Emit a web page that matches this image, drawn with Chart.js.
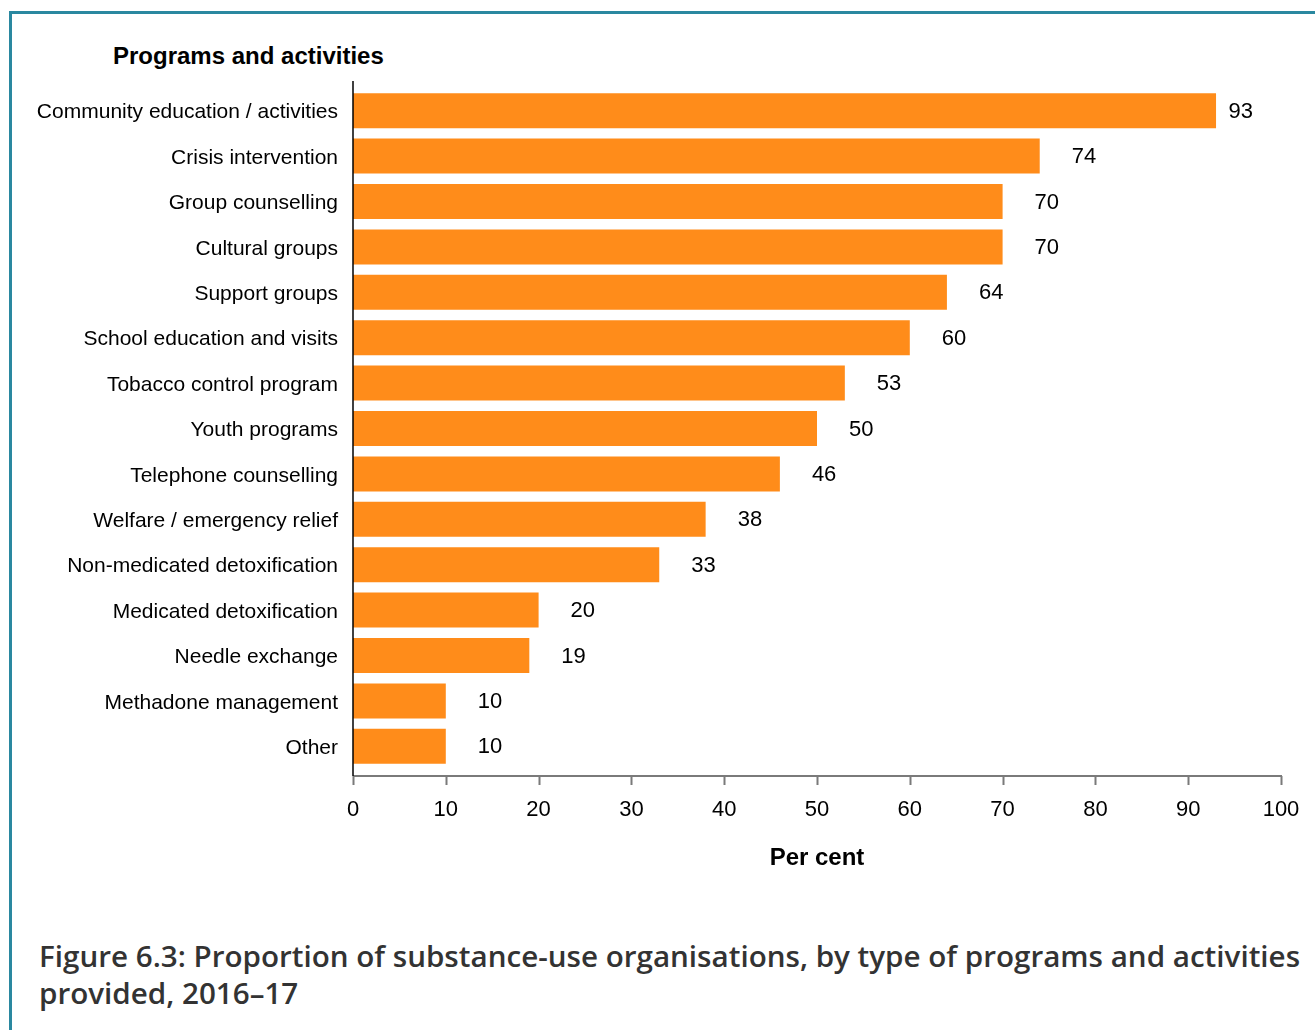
<!DOCTYPE html>
<html>
<head>
<meta charset="utf-8">
<script src="https://cdn.jsdelivr.net/npm/chart.js@4.4.1/dist/chart.umd.min.js"></script>
<style>
  html, body { margin: 0; padding: 0; background: #ffffff; }
  body { width: 1315px; height: 1030px; position: relative; overflow: hidden; font-family: "Liberation Sans", Arial, sans-serif; }
  #frame { position: absolute; left: 9px; top: 11px; width: 1400px; height: 1100px;
           border-top: 3px solid #2a88a0; border-left: 3px solid #2a88a0; }
  #heading { position: absolute; left: 113px; top: 42px; font: bold 24px "Liberation Sans", Arial, sans-serif; color: #000; }
  #wrap { position: absolute; left: 0; top: 0; width: 1315px; height: 900px; }
  #caption { position: absolute; left: 39px; top: 937px; width: 1275px;
             font: 600 29.6px "Open Sans", sans-serif; line-height: 37px; color: #333333; }
</style>
</head>
<body>
<div id="frame"></div>
<div id="heading">Programs and activities</div>
<div id="wrap"><canvas id="chart" width="1315" height="900"></canvas></div>
<div id="caption">Figure 6.3: Proportion of substance-use organisations, by type of programs and activities provided, 2016–17</div>
<script>
// Programs and activities offered, share of organisations (per cent)
const categories = [
  "Community education / activities",
  "Crisis intervention",
  "Group counselling",
  "Cultural groups",
  "Support groups",
  "School education and visits",
  "Tobacco control program",
  "Youth programs",
  "Telephone counselling",
  "Welfare / emergency relief",
  "Non-medicated detoxification",
  "Medicated detoxification",
  "Needle exchange",
  "Methadone management",
  "Other"
];
const perCent = [93, 74, 70, 70, 64, 60, 53, 50, 46, 38, 33, 20, 19, 10, 10];
const xTicks = [0, 10, 20, 30, 40, 50, 60, 70, 80, 90, 100];

const FONT = "'Liberation Sans', Arial, sans-serif";
const AXIS_EXT = 7;   // axis lines run a little past the first and last bars

// Axis lines, x tick marks and value labels
const decorations = {
  id: 'decorations',
  afterDatasetsDraw(chart) {
    const { ctx, chartArea } = chart;
    const xs = chart.scales.x;
    const x0 = xs.getPixelForValue(0);
    const yBase = chartArea.bottom + AXIS_EXT;
    ctx.save();
    // x axis baseline and tick marks
    ctx.strokeStyle = '#7a7a7a';
    ctx.lineWidth = 2;
    ctx.beginPath();
    ctx.moveTo(x0, yBase);
    ctx.lineTo(xs.getPixelForValue(100) + 1, yBase);
    xTicks.forEach(v => {
      const px = Math.round(xs.getPixelForValue(v)) + 0.5;
      ctx.moveTo(px, yBase);
      ctx.lineTo(px, yBase + 9);
    });
    ctx.stroke();
    // y axis line
    ctx.strokeStyle = '#000000';
    ctx.lineWidth = 1.5;
    ctx.beginPath();
    ctx.moveTo(x0, chartArea.top - AXIS_EXT);
    ctx.lineTo(x0, yBase);
    ctx.stroke();
    // value labels
    ctx.fillStyle = '#000000';
    ctx.font = '22px ' + FONT;
    ctx.textBaseline = 'middle';
    ctx.textAlign = 'left';
    const meta = chart.getDatasetMeta(0);
    meta.data.forEach((bar, i) => {
      const txt = String(perCent[i]);
      const w = ctx.measureText(txt).width;
      const x = Math.min(bar.x + 32, chartArea.right - 28 - w);
      ctx.fillText(txt, x, bar.y + 1);
    });
    ctx.restore();
  }
};

new Chart(document.getElementById('chart'), {
  type: 'bar',
  data: {
    labels: categories,
    datasets: [{
      data: perCent,
      backgroundColor: '#FF8C1A',
      borderWidth: 0,
      categoryPercentage: 1.0,
      barPercentage: 0.772
    }]
  },
  options: {
    indexAxis: 'y',
    responsive: false,
    animation: false,
    layout: { padding: { top: 88, left: 0, right: 34, bottom: 0 } },
    plugins: { legend: { display: false }, tooltip: { enabled: false } },
    scales: {
      x: {
        type: 'linear',
        min: 0,
        max: 100,
        afterFit(scale) { scale.height = 131; scale.paddingRight = 0; scale.paddingLeft = 0; },
        afterBuildTicks(scale) { scale.ticks = xTicks.map(v => ({ value: v })); },
        grid: { display: false, drawTicks: false },
        border: { display: false },
        ticks: { color: '#000000', font: { size: 22, family: FONT }, padding: 28, maxRotation: 0 },
        title: {
          display: true,
          text: 'Per cent',
          color: '#000000',
          font: { size: 24, weight: 'bold', family: FONT },
          padding: { top: 0, bottom: 27 }
        }
      },
      y: {
        afterFit(scale) { scale.width = 353; },
        grid: { display: false, drawTicks: false },
        border: { display: false },
        ticks: { color: '#000000', font: { size: 21, family: FONT }, padding: 15, labelOffset: 2, autoSkip: false }
      }
    }
  },
  plugins: [decorations]
});
</script>
</body>
</html>
